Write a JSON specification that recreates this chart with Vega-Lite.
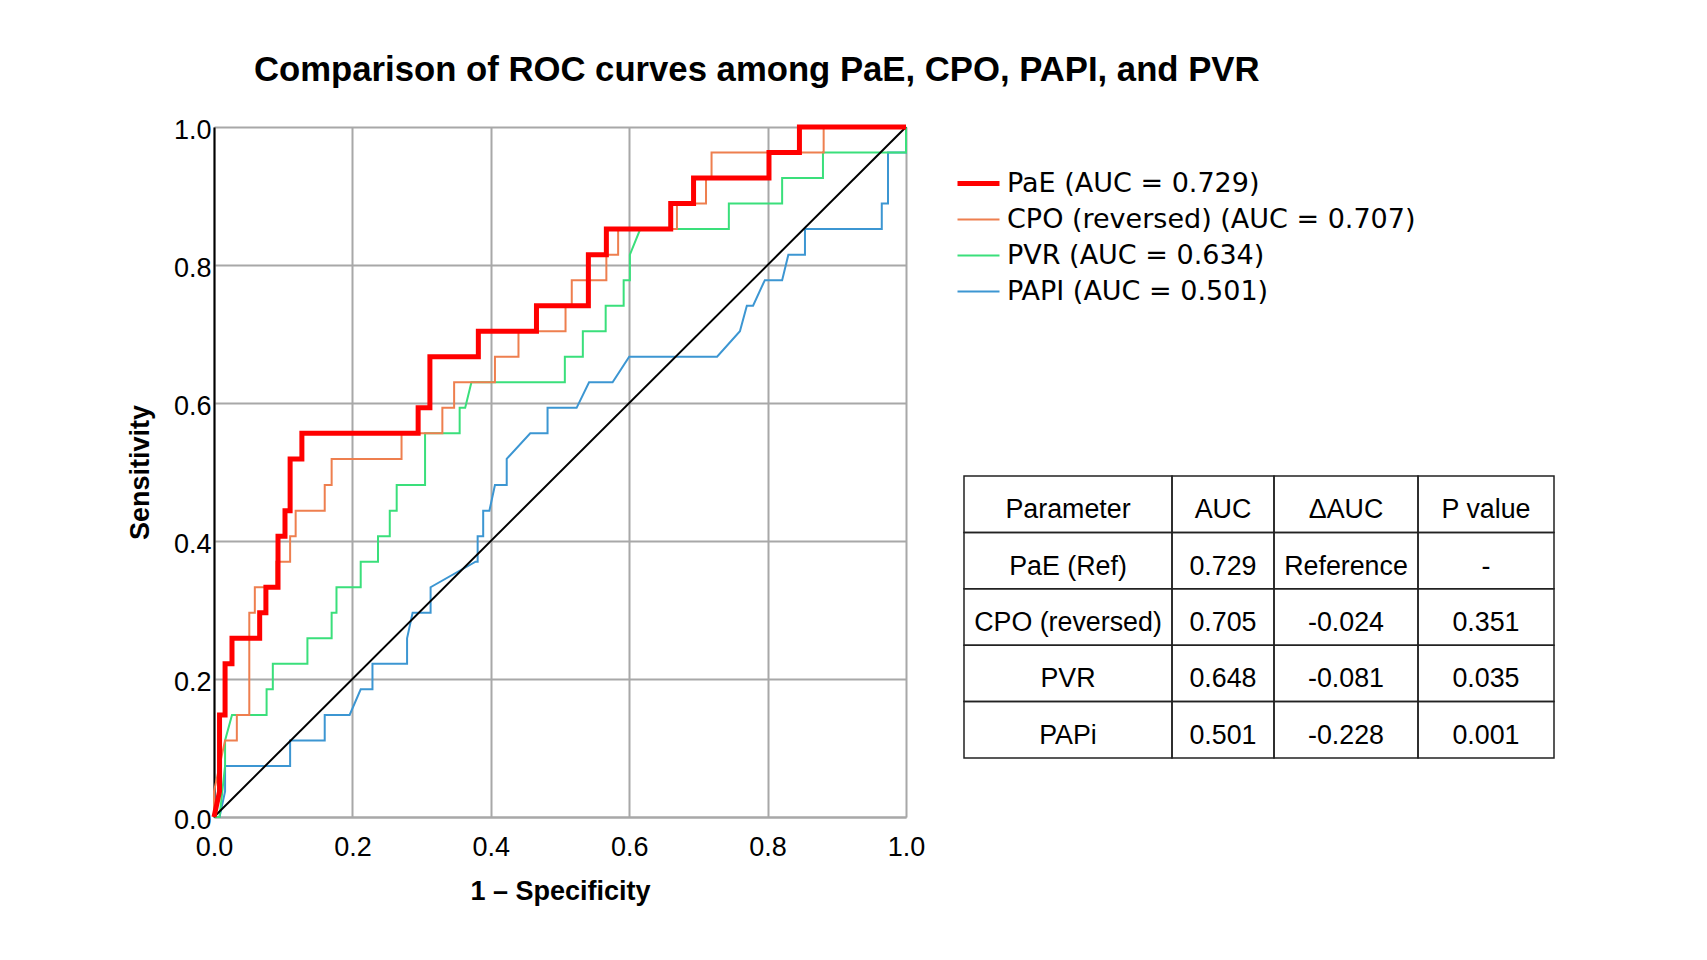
{
  "$schema": "https://vega.github.io/schema/vega-lite/v6.json",
  "background": "white",
  "autosize": {"type": "none"},
  "padding": {"left": 214, "top": 127, "right": 1493, "bottom": 833},
  "bounds": "flush",
  "spacing": 58,
  "config": {"view": {"stroke": null}, "font": "Liberation Sans"},
  "datasets": {
    "roc": [
      {"s":"PAPI","i":0,"x":0,"y":0},{"s":"PAPI","i":1,"x":0.008,"y":0},{"s":"PAPI","i":2,"x":0.016,"y":0.037},{"s":"PAPI","i":3,"x":0.016,"y":0.074},
      {"s":"PAPI","i":4,"x":0.11,"y":0.074},{"s":"PAPI","i":5,"x":0.11,"y":0.111},{"s":"PAPI","i":6,"x":0.16,"y":0.111},{"s":"PAPI","i":7,"x":0.16,"y":0.148},
      {"s":"PAPI","i":8,"x":0.196,"y":0.148},{"s":"PAPI","i":9,"x":0.212,"y":0.185},{"s":"PAPI","i":10,"x":0.229,"y":0.185},{"s":"PAPI","i":11,"x":0.229,"y":0.222},
      {"s":"PAPI","i":12,"x":0.279,"y":0.222},{"s":"PAPI","i":13,"x":0.279,"y":0.259},{"s":"PAPI","i":14,"x":0.287,"y":0.296},{"s":"PAPI","i":15,"x":0.313,"y":0.296},
      {"s":"PAPI","i":16,"x":0.313,"y":0.333},{"s":"PAPI","i":17,"x":0.378,"y":0.37},{"s":"PAPI","i":18,"x":0.381,"y":0.37},{"s":"PAPI","i":19,"x":0.381,"y":0.407},
      {"s":"PAPI","i":20,"x":0.389,"y":0.407},{"s":"PAPI","i":21,"x":0.389,"y":0.444},{"s":"PAPI","i":22,"x":0.398,"y":0.444},{"s":"PAPI","i":23,"x":0.406,"y":0.481},
      {"s":"PAPI","i":24,"x":0.423,"y":0.481},{"s":"PAPI","i":25,"x":0.423,"y":0.519},{"s":"PAPI","i":26,"x":0.457,"y":0.556},{"s":"PAPI","i":27,"x":0.482,"y":0.556},
      {"s":"PAPI","i":28,"x":0.482,"y":0.593},{"s":"PAPI","i":29,"x":0.524,"y":0.593},{"s":"PAPI","i":30,"x":0.542,"y":0.63},{"s":"PAPI","i":31,"x":0.576,"y":0.63},
      {"s":"PAPI","i":32,"x":0.6,"y":0.667},{"s":"PAPI","i":33,"x":0.727,"y":0.667},{"s":"PAPI","i":34,"x":0.76,"y":0.704},{"s":"PAPI","i":35,"x":0.77,"y":0.741},
      {"s":"PAPI","i":36,"x":0.779,"y":0.741},{"s":"PAPI","i":37,"x":0.796,"y":0.778},{"s":"PAPI","i":38,"x":0.821,"y":0.778},{"s":"PAPI","i":39,"x":0.83,"y":0.815},
      {"s":"PAPI","i":40,"x":0.854,"y":0.815},{"s":"PAPI","i":41,"x":0.854,"y":0.852},{"s":"PAPI","i":42,"x":0.965,"y":0.852},{"s":"PAPI","i":43,"x":0.965,"y":0.889},
      {"s":"PAPI","i":44,"x":0.974,"y":0.889},{"s":"PAPI","i":45,"x":0.974,"y":0.963},{"s":"PAPI","i":46,"x":1,"y":0.963},{"s":"PAPI","i":47,"x":1,"y":1},

      {"s":"PVR","i":0,"x":0,"y":0},{"s":"PVR","i":1,"x":0.008,"y":0},{"s":"PVR","i":2,"x":0.016,"y":0.074},{"s":"PVR","i":3,"x":0.016,"y":0.111},
      {"s":"PVR","i":4,"x":0.026,"y":0.148},{"s":"PVR","i":5,"x":0.076,"y":0.148},{"s":"PVR","i":6,"x":0.076,"y":0.185},{"s":"PVR","i":7,"x":0.085,"y":0.185},
      {"s":"PVR","i":8,"x":0.085,"y":0.222},{"s":"PVR","i":9,"x":0.135,"y":0.222},{"s":"PVR","i":10,"x":0.135,"y":0.259},{"s":"PVR","i":11,"x":0.17,"y":0.259},
      {"s":"PVR","i":12,"x":0.17,"y":0.296},{"s":"PVR","i":13,"x":0.177,"y":0.296},{"s":"PVR","i":14,"x":0.177,"y":0.333},{"s":"PVR","i":15,"x":0.212,"y":0.333},
      {"s":"PVR","i":16,"x":0.212,"y":0.37},{"s":"PVR","i":17,"x":0.237,"y":0.37},{"s":"PVR","i":18,"x":0.237,"y":0.407},{"s":"PVR","i":19,"x":0.254,"y":0.407},
      {"s":"PVR","i":20,"x":0.254,"y":0.444},{"s":"PVR","i":21,"x":0.264,"y":0.444},{"s":"PVR","i":22,"x":0.264,"y":0.481},{"s":"PVR","i":23,"x":0.305,"y":0.481},
      {"s":"PVR","i":24,"x":0.305,"y":0.556},{"s":"PVR","i":25,"x":0.355,"y":0.556},{"s":"PVR","i":26,"x":0.355,"y":0.593},{"s":"PVR","i":27,"x":0.363,"y":0.593},
      {"s":"PVR","i":28,"x":0.372,"y":0.63},{"s":"PVR","i":29,"x":0.507,"y":0.63},{"s":"PVR","i":30,"x":0.507,"y":0.667},{"s":"PVR","i":31,"x":0.533,"y":0.667},
      {"s":"PVR","i":32,"x":0.533,"y":0.704},{"s":"PVR","i":33,"x":0.566,"y":0.704},{"s":"PVR","i":34,"x":0.566,"y":0.741},{"s":"PVR","i":35,"x":0.592,"y":0.741},
      {"s":"PVR","i":36,"x":0.592,"y":0.778},{"s":"PVR","i":37,"x":0.601,"y":0.778},{"s":"PVR","i":38,"x":0.601,"y":0.815},{"s":"PVR","i":39,"x":0.616,"y":0.852},
      {"s":"PVR","i":40,"x":0.744,"y":0.852},{"s":"PVR","i":41,"x":0.744,"y":0.889},{"s":"PVR","i":42,"x":0.821,"y":0.889},{"s":"PVR","i":43,"x":0.821,"y":0.926},
      {"s":"PVR","i":44,"x":0.88,"y":0.926},{"s":"PVR","i":45,"x":0.88,"y":0.963},{"s":"PVR","i":46,"x":1,"y":0.963},{"s":"PVR","i":47,"x":1,"y":1},

      {"s":"CPO","i":0,"x":0,"y":0},{"s":"CPO","i":1,"x":0,"y":0.037},{"s":"CPO","i":2,"x":0.008,"y":0.074},{"s":"CPO","i":3,"x":0.016,"y":0.111},
      {"s":"CPO","i":4,"x":0.033,"y":0.111},{"s":"CPO","i":5,"x":0.033,"y":0.148},{"s":"CPO","i":6,"x":0.051,"y":0.148},{"s":"CPO","i":7,"x":0.051,"y":0.296},
      {"s":"CPO","i":8,"x":0.059,"y":0.296},{"s":"CPO","i":9,"x":0.059,"y":0.333},{"s":"CPO","i":10,"x":0.09,"y":0.333},{"s":"CPO","i":11,"x":0.09,"y":0.37},
      {"s":"CPO","i":12,"x":0.11,"y":0.37},{"s":"CPO","i":13,"x":0.11,"y":0.407},{"s":"CPO","i":14,"x":0.118,"y":0.407},{"s":"CPO","i":15,"x":0.118,"y":0.444},
      {"s":"CPO","i":16,"x":0.16,"y":0.444},{"s":"CPO","i":17,"x":0.16,"y":0.481},{"s":"CPO","i":18,"x":0.17,"y":0.481},{"s":"CPO","i":19,"x":0.17,"y":0.519},
      {"s":"CPO","i":20,"x":0.271,"y":0.519},{"s":"CPO","i":21,"x":0.271,"y":0.556},{"s":"CPO","i":22,"x":0.33,"y":0.556},{"s":"CPO","i":23,"x":0.33,"y":0.593},
      {"s":"CPO","i":24,"x":0.347,"y":0.593},{"s":"CPO","i":25,"x":0.347,"y":0.63},{"s":"CPO","i":26,"x":0.406,"y":0.63},{"s":"CPO","i":27,"x":0.406,"y":0.667},
      {"s":"CPO","i":28,"x":0.44,"y":0.667},{"s":"CPO","i":29,"x":0.44,"y":0.704},{"s":"CPO","i":30,"x":0.508,"y":0.704},{"s":"CPO","i":31,"x":0.508,"y":0.741},
      {"s":"CPO","i":32,"x":0.517,"y":0.741},{"s":"CPO","i":33,"x":0.517,"y":0.778},{"s":"CPO","i":34,"x":0.567,"y":0.778},{"s":"CPO","i":35,"x":0.567,"y":0.815},
      {"s":"CPO","i":36,"x":0.584,"y":0.815},{"s":"CPO","i":37,"x":0.584,"y":0.852},{"s":"CPO","i":38,"x":0.669,"y":0.852},{"s":"CPO","i":39,"x":0.669,"y":0.889},
      {"s":"CPO","i":40,"x":0.711,"y":0.889},{"s":"CPO","i":41,"x":0.711,"y":0.926},{"s":"CPO","i":42,"x":0.719,"y":0.926},{"s":"CPO","i":43,"x":0.719,"y":0.963},
      {"s":"CPO","i":44,"x":0.881,"y":0.963},{"s":"CPO","i":45,"x":0.881,"y":1},{"s":"CPO","i":46,"x":1,"y":1},

      {"s":"PaE","i":0,"x":0,"y":0},{"s":"PaE","i":1,"x":0.008,"y":0.037},{"s":"PaE","i":2,"x":0.008,"y":0.148},{"s":"PaE","i":3,"x":0.016,"y":0.148},
      {"s":"PaE","i":4,"x":0.016,"y":0.222},{"s":"PaE","i":5,"x":0.026,"y":0.222},{"s":"PaE","i":6,"x":0.026,"y":0.259},{"s":"PaE","i":7,"x":0.066,"y":0.259},
      {"s":"PaE","i":8,"x":0.066,"y":0.296},{"s":"PaE","i":9,"x":0.075,"y":0.296},{"s":"PaE","i":10,"x":0.075,"y":0.333},{"s":"PaE","i":11,"x":0.0925,"y":0.333},
      {"s":"PaE","i":12,"x":0.0925,"y":0.407},{"s":"PaE","i":13,"x":0.1026,"y":0.407},{"s":"PaE","i":14,"x":0.1026,"y":0.444},{"s":"PaE","i":15,"x":0.11,"y":0.444},
      {"s":"PaE","i":16,"x":0.11,"y":0.519},{"s":"PaE","i":17,"x":0.127,"y":0.519},{"s":"PaE","i":18,"x":0.127,"y":0.556},{"s":"PaE","i":19,"x":0.295,"y":0.556},
      {"s":"PaE","i":20,"x":0.295,"y":0.593},{"s":"PaE","i":21,"x":0.312,"y":0.593},{"s":"PaE","i":22,"x":0.312,"y":0.667},{"s":"PaE","i":23,"x":0.382,"y":0.667},
      {"s":"PaE","i":24,"x":0.382,"y":0.704},{"s":"PaE","i":25,"x":0.466,"y":0.704},{"s":"PaE","i":26,"x":0.466,"y":0.741},{"s":"PaE","i":27,"x":0.541,"y":0.741},
      {"s":"PaE","i":28,"x":0.541,"y":0.815},{"s":"PaE","i":29,"x":0.567,"y":0.815},{"s":"PaE","i":30,"x":0.567,"y":0.852},{"s":"PaE","i":31,"x":0.66,"y":0.852},
      {"s":"PaE","i":32,"x":0.66,"y":0.889},{"s":"PaE","i":33,"x":0.693,"y":0.889},{"s":"PaE","i":34,"x":0.693,"y":0.926},{"s":"PaE","i":35,"x":0.802,"y":0.926},
      {"s":"PaE","i":36,"x":0.802,"y":0.963},{"s":"PaE","i":37,"x":0.846,"y":0.963},{"s":"PaE","i":38,"x":0.846,"y":1},{"s":"PaE","i":39,"x":1,"y":1}
    ],
    "diag": [{"x":0,"y":0},{"x":1,"y":1}],
    "table": [
      {"r":0,"c":"Parameter","t":"Parameter"},{"r":0,"c":"AUC","t":"AUC"},{"r":0,"c":"dAUC","t":"ΔAUC"},{"r":0,"c":"P","t":"P value"},
      {"r":1,"c":"Parameter","t":"PaE (Ref)"},{"r":1,"c":"AUC","t":"0.729"},{"r":1,"c":"dAUC","t":"Reference"},{"r":1,"c":"P","t":"-"},
      {"r":2,"c":"Parameter","t":"CPO (reversed)"},{"r":2,"c":"AUC","t":"0.705"},{"r":2,"c":"dAUC","t":"-0.024"},{"r":2,"c":"P","t":"0.351"},
      {"r":3,"c":"Parameter","t":"PVR"},{"r":3,"c":"AUC","t":"0.648"},{"r":3,"c":"dAUC","t":"-0.081"},{"r":3,"c":"P","t":"0.035"},
      {"r":4,"c":"Parameter","t":"PAPi"},{"r":4,"c":"AUC","t":"0.501"},{"r":4,"c":"dAUC","t":"-0.228"},{"r":4,"c":"P","t":"0.001"}
    ]
  },
  "hconcat": [
    {
      "width": 692,
      "height": 690,
      "title": {"text": "Comparison of ROC curves among PaE, CPO, PAPI, and PVR", "anchor": "start", "frame": "group", "dx": 40, "offset": 0, "baseline": "alphabetic", "font": "Liberation Sans", "fontSize": 34.7, "fontWeight": "bold", "color": "black"},
      "encoding": {
        "x": {"field": "x", "type": "quantitative", "scale": {"domain": [0, 1], "nice": false},
          "axis": {"values": [0, 0.2, 0.4, 0.6, 0.8, 1], "format": ".1f", "title": "1 – Specificity", "grid": true, "gridColor": "#A8A8A8", "gridWidth": 2, "domainColor": "#A8A8A8", "domainWidth": 2, "ticks": false, "labelPadding": 17, "labelFlush": false, "labelOverlap": false, "labelFont": "Liberation Sans", "labelFontSize": 27, "labelColor": "black", "titleFont": "Liberation Sans", "titleFontSize": 27, "titleFontWeight": "bold", "titleColor": "black", "titlePadding": 18}},
        "y": {"field": "y", "type": "quantitative", "scale": {"domain": [0, 1], "nice": false},
          "axis": {"values": [0, 0.2, 0.4, 0.6, 0.8, 1], "format": ".1f", "title": "Sensitivity", "grid": true, "gridColor": "#A8A8A8", "gridWidth": 2, "domainColor": "black", "domainWidth": 2, "ticks": false, "labelPadding": 3, "labelOffset": 3, "labelFlush": false, "labelOverlap": false, "labelFont": "Liberation Sans", "labelFontSize": 27, "labelColor": "black", "titleFont": "Liberation Sans", "titleFontSize": 27, "titleFontWeight": "bold", "titleColor": "black", "titlePadding": 19}}
      },
      "layer": [
        {
          "data": {"name": "roc"},
          "transform": [{"filter": "datum.s !== 'PaE'"}],
          "mark": {"type": "line", "strokeWidth": 2, "clip": false},
          "encoding": {
            "color": {"field": "s", "type": "nominal",
              "scale": {"domain": ["PaE", "CPO", "PVR", "PAPI"], "range": ["#FF0000", "#EE7F4F", "#3ADF7B", "#3C96D2"]},
              "legend": {"orient": "none", "legendX": 751, "legendY": 43, "title": null, "labelFont": "DejaVu Sans", "labelFontSize": 27, "labelColor": "black", "labelLimit": 0, "symbolType": "stroke", "symbolSize": 1764, "symbolStrokeWidth": 2, "rowPadding": 8, "labelOffset": 15,
                "labelExpr": "datum.label == 'PaE' ? 'PaE (AUC = 0.729)' : datum.label == 'CPO' ? 'CPO (reversed) (AUC = 0.707)' : datum.label == 'PVR' ? 'PVR (AUC = 0.634)' : 'PAPI (AUC = 0.501)'",
                "encode": {"symbols": {"update": {"strokeWidth": {"signal": "datum.value == 'PaE' ? 5 : 2"}}}}}},
            "order": {"field": "i", "type": "quantitative"}
          }
        },
        {
          "data": {"name": "diag"},
          "mark": {"type": "line", "color": "black", "strokeWidth": 2, "clip": false},
          "encoding": {}
        },
        {
          "data": {"name": "roc"},
          "transform": [{"filter": "datum.s === 'PaE'"}],
          "mark": {"type": "line", "strokeWidth": 5, "clip": false},
          "encoding": {
            "color": {"field": "s", "type": "nominal"},
            "order": {"field": "i", "type": "quantitative"}
          }
        }
      ]
    },
    {
      "hconcat": [
        {
          "width": 208, "height": 690,
          "data": {"name": "table"},
          "transform": [{"filter": "datum.c === 'Parameter'"}],
          "encoding": {
            "x": {"field": "c", "type": "nominal", "axis": null, "scale": {"paddingInner": 0, "paddingOuter": 0}},
            "y": {"field": "r", "type": "ordinal", "axis": null, "scale": {"range": [349, 631], "paddingInner": 0, "paddingOuter": 0}}
          },
          "layer": [
            {"mark": {"type": "rect", "fill": "transparent", "stroke": "#222222", "strokeWidth": 1.5}},
            {"mark": {"type": "text", "font": "Liberation Sans", "fontSize": 26.8, "dy": 6, "color": "black"}, "encoding": {"text": {"field": "t"}}}
          ]
        },
        {
          "width": 102, "height": 690,
          "data": {"name": "table"},
          "transform": [{"filter": "datum.c === 'AUC'"}],
          "encoding": {
            "x": {"field": "c", "type": "nominal", "axis": null, "scale": {"paddingInner": 0, "paddingOuter": 0}},
            "y": {"field": "r", "type": "ordinal", "axis": null, "scale": {"range": [349, 631], "paddingInner": 0, "paddingOuter": 0}}
          },
          "layer": [
            {"mark": {"type": "rect", "fill": "transparent", "stroke": "#222222", "strokeWidth": 1.5}},
            {"mark": {"type": "text", "font": "Liberation Sans", "fontSize": 26.8, "dy": 6, "color": "black"}, "encoding": {"text": {"field": "t"}}}
          ]
        },
        {
          "width": 144, "height": 690,
          "data": {"name": "table"},
          "transform": [{"filter": "datum.c === 'dAUC'"}],
          "encoding": {
            "x": {"field": "c", "type": "nominal", "axis": null, "scale": {"paddingInner": 0, "paddingOuter": 0}},
            "y": {"field": "r", "type": "ordinal", "axis": null, "scale": {"range": [349, 631], "paddingInner": 0, "paddingOuter": 0}}
          },
          "layer": [
            {"mark": {"type": "rect", "fill": "transparent", "stroke": "#222222", "strokeWidth": 1.5}},
            {"mark": {"type": "text", "font": "Liberation Sans", "fontSize": 26.8, "dy": 6, "color": "black"}, "encoding": {"text": {"field": "t"}}}
          ]
        },
        {
          "width": 136, "height": 690,
          "data": {"name": "table"},
          "transform": [{"filter": "datum.c === 'P'"}],
          "encoding": {
            "x": {"field": "c", "type": "nominal", "axis": null, "scale": {"paddingInner": 0, "paddingOuter": 0}},
            "y": {"field": "r", "type": "ordinal", "axis": null, "scale": {"range": [349, 631], "paddingInner": 0, "paddingOuter": 0}}
          },
          "layer": [
            {"mark": {"type": "rect", "fill": "transparent", "stroke": "#222222", "strokeWidth": 1.5}},
            {"mark": {"type": "text", "font": "Liberation Sans", "fontSize": 26.8, "dy": 6, "color": "black"}, "encoding": {"text": {"field": "t"}}}
          ]
        }
      ],
      "spacing": 0,
      "bounds": "flush"
    }
  ]
}
